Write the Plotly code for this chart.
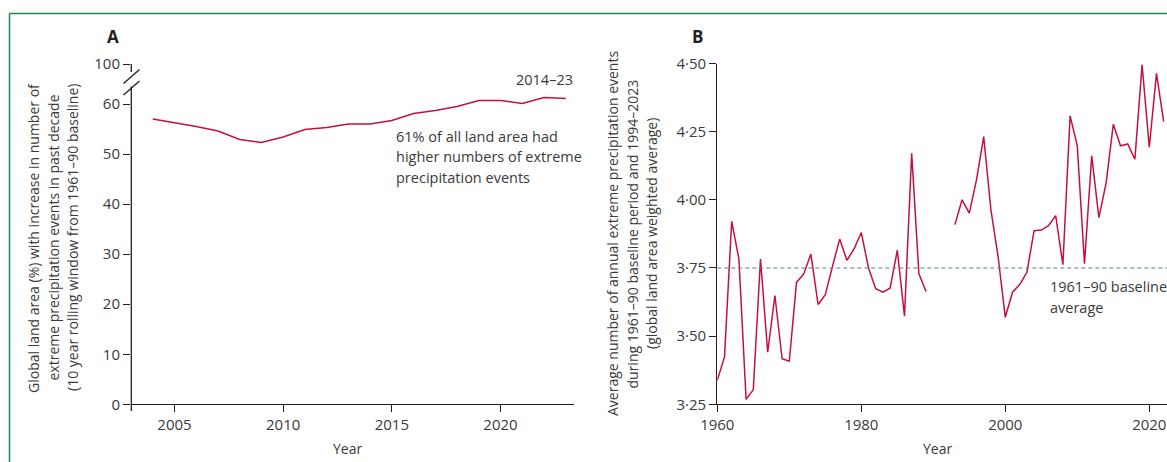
import plotly.graph_objects as go

W, H = 1167, 462

# ---------------- data ----------------
years_a = list(range(2004, 2024))
share_a = [57.0, 56.3, 55.5, 54.6, 52.9, 52.3, 53.4, 54.9, 55.3, 56.0,
           56.0, 56.7, 58.1, 58.7, 59.5, 60.7, 60.7, 60.1, 61.3, 61.1]
ytick_a_vals = [0, 10, 20, 30, 40, 50, 60, 68]
ytick_a_text = ["0", "10", "20", "30", "40", "50", "60", "100"]
xtick_a_vals = [2005, 2010, 2015, 2020]

years_b = list(range(1960, 2023))
events_b = [3.338, 3.424, 3.921, 3.783, 3.268, 3.304, 3.783, 3.441, 3.649, 3.417,
            3.408, 3.697, 3.728, 3.801, 3.616, 3.652, 3.756, 3.856, 3.778, 3.820,
            3.880, 3.750, 3.674, 3.661, 3.676, 3.815, 3.573, 4.171, 3.729, 3.664,
            None, None, None, 3.909, 4.000, 3.951, 4.073, 4.232, 3.964, 3.792,
            3.569, 3.661, 3.689, 3.734, 3.887, 3.889, 3.905, 3.942, 3.762, 4.308,
            4.198, 3.766, 4.161, 3.935, 4.061, 4.277, 4.198, 4.205, 4.149, 4.495,
            4.193, 4.464, 4.287]
baseline_b = 3.75
ytick_b_vals = [3.25, 3.50, 3.75, 4.00, 4.25, 4.50]
ytick_b_text = ["3·25", "3·50", "3·75", "4·00", "4·25", "4·50"]
xtick_b_vals = [1960, 1980, 2000, 2020]

# ---------------- style ----------------
FONT = "Open Sans"
TXT = "#3a3a3a"
AX = "#231f20"
RED = "#c4103f"
GREEN = "#1e8a50"


def px(x):
    return x / W


def py(y):
    return 1 - y / H


fig = go.Figure()
fig.add_trace(go.Scatter(x=years_a, y=share_a, mode="lines",
                         line=dict(color=RED, width=1.5),
                         xaxis="x", yaxis="y", hoverinfo="skip"))
fig.add_trace(go.Scatter(x=years_b, y=events_b, mode="lines",
                         line=dict(color=RED, width=1.5), connectgaps=False,
                         xaxis="x2", yaxis="y2", hoverinfo="skip"))

axis_common = dict(showgrid=False, zeroline=False, ticks="outside", ticklen=7,
                   tickwidth=1.3, tickcolor=AX, linecolor=AX, linewidth=1.3,
                   tickfont=dict(family=FONT, size=15, color=TXT), fixedrange=True,
                   automargin=False)

fig.update_layout(
    width=W, height=H,
    margin=dict(l=0, r=0, t=0, b=0, pad=0, autoexpand=False),
    paper_bgcolor="white", plot_bgcolor="white",
    showlegend=False,
    font=dict(family=FONT, color=TXT),
    xaxis=dict(domain=[px(131), px(574)], range=[2003.0, 2023.38],
               tickvals=xtick_a_vals, showline=True, anchor="y", **axis_common),
    yaxis=dict(domain=[py(404.3), py(64)], range=[0, 68],
               tickvals=ytick_a_vals, ticktext=ytick_a_text, showline=False,
               anchor="x", **axis_common),
    xaxis2=dict(domain=[px(717.3), 1.0], range=[1960, 2022.46],
                tickvals=xtick_b_vals, showline=True, anchor="y2", **axis_common),
    yaxis2=dict(domain=[py(404.3), py(63.5)], range=[3.25, 4.5],
                tickvals=ytick_b_vals, ticktext=ytick_b_text, showline=True,
                anchor="x2", **axis_common),
)

shapes = []
# broken y-axis of panel A
ax_x = px(131.3)
lw = dict(color=AX, width=1.3)
shapes.append(dict(type="line", xref="paper", yref="paper", x0=ax_x, x1=ax_x,
                   y0=py(411), y1=py(86.5), line=lw))
shapes.append(dict(type="line", xref="paper", yref="paper", x0=ax_x, x1=ax_x,
                   y0=py(72), y1=py(64), line=lw))
shapes.append(dict(type="line", xref="paper", yref="paper", x0=px(123.5), x1=px(139.5),
                   y0=py(83.5), y1=py(69.5), line=lw))
shapes.append(dict(type="line", xref="paper", yref="paper", x0=px(123.5), x1=px(139.5),
                   y0=py(95), y1=py(81), line=lw))
# baseline in panel B
shapes.append(dict(type="line", xref="x2 domain", yref="y2", x0=0, x1=1,
                   y0=baseline_b, y1=baseline_b,
                   line=dict(color="#5d7f8e", width=1.2, dash="4px,3px")))
# green frame
shapes.append(dict(type="line", xref="paper", yref="paper", x0=px(9.5), x1=1,
                   y0=py(13.5), y1=py(13.5), line=dict(color=GREEN, width=1.5)))
shapes.append(dict(type="line", xref="paper", yref="paper", x0=px(9.5), x1=px(9.5),
                   y0=py(13.5), y1=0, line=dict(color=GREEN, width=1.5)))
fig.update_layout(shapes=shapes)

ann = []


def add_text(x, y, text, size=14, xanchor="center", angle=0, color=TXT):
    ann.append(dict(xref="paper", yref="paper", x=px(x), y=py(y), text=text,
                    showarrow=False, xanchor=xanchor, yanchor="middle",
                    textangle=angle,
                    font=dict(family=FONT, size=size, color=color)))


add_text(113, 36, "<b>A</b>", size=17, color="#222222")
add_text(697, 36, "<b>B</b>", size=17, color="#222222")

# y titles A
add_text(33, 238, "Global land area (%) with increase in number of", angle=-90)
add_text(52.5, 238, "extreme precipitation events in past decade", angle=-90)
add_text(72, 238, "(10 year rolling window from 1961–90 baseline)", angle=-90)
# y titles B
add_text(613, 234, "Average number of annual extreme precipitation events", angle=-90)
add_text(632.5, 234, "during 1961–90 baseline period and 1994–2023", angle=-90)
add_text(652, 234, "(global land area weighted average)", angle=-90)

# x titles
add_text(347, 448, "Year")
add_text(937, 448, "Year")

# panel annotations
add_text(575, 79, "2014–23", size=14.5, xanchor="right")
add_text(394, 136, "61% of all land area had", size=14.5, xanchor="left")
add_text(394, 156.5, "higher numbers of extreme", size=14.5, xanchor="left")
add_text(394, 177, "precipitation events", size=14.5, xanchor="left")
add_text(1048, 286.5, "1961–90 baseline", size=14.5, xanchor="left")
add_text(1048, 307, "average", size=14.5, xanchor="left")

fig.update_layout(annotations=ann)

fig.write_html(
    "out.html",
    config={"displayModeBar": False, "responsive": False},
    post_script="document.body.style.margin='0';document.body.style.overflow='hidden';",
)
